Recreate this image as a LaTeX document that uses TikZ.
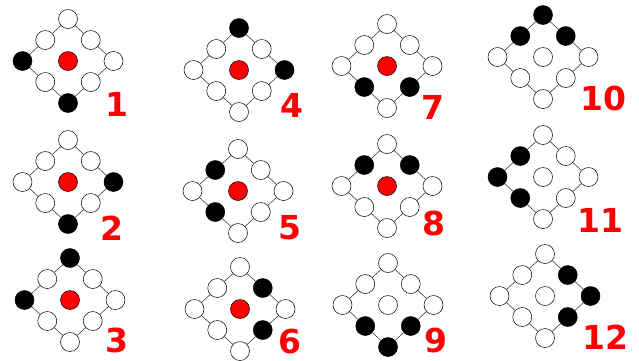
\documentclass[tikz,border=0pt]{standalone}
\usepackage{fontspec}
\setsansfont{DejaVu Sans}
\usepackage{xcolor}
\usepackage{tikz}

\tikzset{
    emp/.style={circle, draw, fill=white, line width=0.5pt, minimum size=19pt, inner sep=0pt},
    occ/.style={emp, fill=black},
    redc/.style={emp, fill=red},
    link/.style={draw=black!75, line width=0.6pt},
    numlabel/.style={text=red, inner sep=0pt, anchor=center,
        font=\sffamily\bfseries\fontsize{33}{33}\selectfont},
}

\begin{document}
\begin{tikzpicture}[x=1pt, y=-1pt]
\useasboundingbox (0,0) rectangle (639,360);
% pegs in order: top, upper right, right, lower right, bottom, lower left, left, upper left
\foreach \n/\cx/\cy/\lx/\ly/\pegs/\mid in {
    1/68/61/117/104/{emp,emp,emp,emp,occ,emp,occ,emp}/redc,
    2/68/182/112/228/{emp,emp,occ,emp,occ,emp,emp,emp}/redc,
    3/70/300/117/340/{occ,emp,emp,emp,emp,emp,occ,emp}/redc,
    4/239/70/292/105/{occ,emp,occ,emp,emp,emp,emp,emp}/redc,
    5/238/191/290/228/{emp,emp,emp,emp,emp,occ,emp,occ}/redc,
    6/240/309/290/341/{emp,occ,emp,occ,emp,emp,emp,emp}/redc,
    7/387/66/433/107/{emp,emp,emp,occ,emp,occ,emp,emp}/redc,
    8/387/186/434/223/{emp,occ,emp,emp,emp,emp,emp,occ}/redc,
    9/388/305/436/340/{emp,emp,emp,occ,occ,occ,emp,emp}/emp,
    10/543/57/603/98/{occ,occ,emp,emp,emp,emp,emp,occ}/emp,
    11/543/177/600/220/{emp,emp,emp,emp,emp,occ,occ,occ}/emp,
    12/545/296/605/337/{emp,occ,occ,occ,emp,emp,emp,emp}/emp} {
    \node[\mid] (c\n) at (\cx,\cy) {};
    \foreach [count=\k from 0] \f in \pegs {
        \pgfmathsetmacro\t{45*\k}
        \pgfmathsetmacro\s{abs(sin(\t))+abs(cos(\t))}
        \node[\f] (f\n-\k) at ({\cx+45.5*sin(\t)/\s}, {\cy-42*cos(\t)/\s}) {};
    }
    \foreach \k in {0,...,7} {
        \pgfmathtruncatemacro\nk{mod(\k+1,8)}
        \draw[link] (f\n-\k) -- (f\n-\nk);
    }
    \node[numlabel] (lab\n) at (\lx,\ly) {\n};
}
\end{tikzpicture}
\end{document}
